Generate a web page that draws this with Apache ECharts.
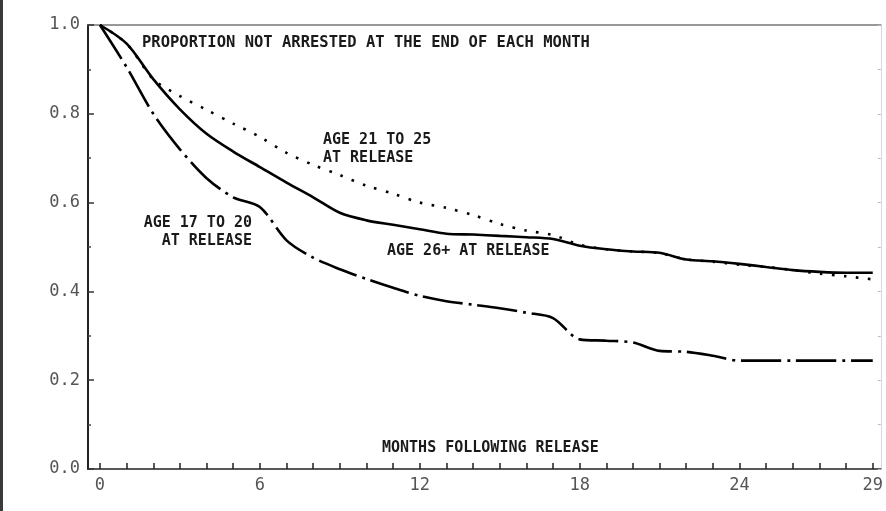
<!DOCTYPE html>
<html>
<head>
<meta charset="utf-8">
<script src="https://cdn.jsdelivr.net/npm/echarts@6/dist/echarts.min.js"></script>
<style>
html,body{margin:0;padding:0;background:#fff;}
#chart{width:886px;height:511px;}
</style>
</head>
<body>
<div id="chart"></div>
<script>
// Months following release
var months = [0,1,2,3,4,5,6,7,8,9,10,11,12,13,14,15,16,17,18,19,20,21,22,23,24,25,26,27,28,29];
// Age 26+ at release (solid)
var age26plus = [1.0,0.958,0.878,0.810,0.755,0.715,0.680,0.645,0.612,0.577,0.560,0.550,0.540,0.530,0.528,0.525,0.522,0.518,0.503,0.495,0.490,0.487,0.472,0.468,0.462,0.455,0.448,0.444,0.442,0.442];
// Age 21 to 25 at release (dotted)
var age21to25 = [1.0,0.958,0.878,0.840,0.809,0.778,0.748,0.712,0.685,0.662,0.638,0.620,0.600,0.588,0.572,0.552,0.537,0.527,0.505,0.495,0.490,0.486,0.472,0.467,0.460,0.455,0.448,0.440,0.434,0.427];
// Age 17 to 20 at release (dash-dot)
var age17to20 = [1.0,0.905,0.800,0.720,0.655,0.612,0.590,0.515,0.476,0.450,0.428,0.408,0.390,0.378,0.370,0.362,0.352,0.340,0.292,0.289,0.285,0.266,0.264,0.255,0.244,0.244,0.244,0.244,0.244,0.244];
// Axis tick labels
var xLabelValues = [0,6,12,18,24,29];

function pairs(vals){ return months.map(function(m,i){ return [m, vals[i]]; }); }

var chart = echarts.init(document.getElementById('chart'), null, {renderer:'canvas'});
var monoFont = '"DejaVu Sans Mono", "Liberation Mono", monospace';
var annot = 'bold 15px ' + monoFont;

chart.setOption({
  backgroundColor:'#ffffff',
  animation:false,
  grid:{left:88, right:1, top:25, bottom:42, containLabel:false},
  xAxis:[{
    type:'value', min:-0.45, max:29.3,
    axisLine:{show:true, onZero:false, lineStyle:{color:'#222', width:1.5}},
    axisTick:{show:true, inside:true, length:6, customValues:months, lineStyle:{color:'#222', width:1.5}},
    axisLabel:{show:true, customValues:xLabelValues, margin:8, color:'#555', fontFamily:monoFont, fontSize:17},
    splitLine:{show:false}
  },{
    type:'value', position:'top', min:-0.45, max:29.3,
    axisLine:{show:true, onZero:false, lineStyle:{color:'#777', width:1.5}},
    axisTick:{show:false}, axisLabel:{show:false}, splitLine:{show:false}
  }],
  yAxis:[{
    type:'value', min:0, max:1, interval:0.2, position:'left',
    axisLine:{show:true, onZero:false, lineStyle:{color:'#222', width:2}},
    axisTick:{show:true, inside:true, length:6, lineStyle:{color:'#333', width:1.5}},
    minorTick:{show:true, splitNumber:2, length:3, lineStyle:{color:'#444', width:1.5}},
    axisLabel:{show:true, margin:8, color:'#555', fontFamily:monoFont, fontSize:17,
      formatter:function(v){ return v.toFixed(1); }},
    splitLine:{show:false}
  },{
    type:'value', position:'right', min:0, max:1, interval:0.1,
    axisLine:{show:true, onZero:false, lineStyle:{color:'#d8d8d8', width:1}},
    axisTick:{show:true, inside:true, length:3, lineStyle:{color:'#bbb'}},
    axisLabel:{show:false}, splitLine:{show:false}
  }],
  series:[{
    name:'AGE 26+ AT RELEASE', type:'line', data:pairs(age26plus), showSymbol:false, symbol:'none',
    smooth:0.3,
    lineStyle:{color:'#000', width:2.6, type:'solid'}, z:3
  },{
    name:'AGE 21 TO 25 AT RELEASE', type:'line', data:pairs(age21to25), showSymbol:false, symbol:'none',
    smooth:0.3,
    lineStyle:{color:'#000', width:2.6, type:[2.6,9.4], cap:'butt'}, z:2
  },{
    name:'AGE 17 TO 20 AT RELEASE', type:'line', data:pairs(age17to20), showSymbol:false, symbol:'none',
    smooth:0.3,
    lineStyle:{color:'#000', width:2.6, type:[40,6,3,6], cap:'butt'}, z:2
  }],
  graphic:[
    {type:'rect', left:0, top:0, shape:{x:0,y:0,width:3,height:511}, style:{fill:'#3a3a3a'}, silent:true},
    {type:'text', x:142, y:43, style:{text:'PROPORTION NOT ARRESTED AT THE END OF EACH MONTH', font:'bold 15.5px '+monoFont, fill:'#1a1a1a', textAlign:'left', textVerticalAlign:'middle'}},
    {type:'text', x:323, y:140, style:{text:'AGE 21 TO 25', font:annot, fill:'#1a1a1a', textAlign:'left', textVerticalAlign:'middle'}},
    {type:'text', x:323, y:158, style:{text:'AT RELEASE', font:annot, fill:'#1a1a1a', textAlign:'left', textVerticalAlign:'middle'}},
    {type:'text', x:252, y:223, style:{text:'AGE 17 TO 20', font:annot, fill:'#1a1a1a', textAlign:'right', textVerticalAlign:'middle'}},
    {type:'text', x:252, y:241, style:{text:'AT RELEASE', font:annot, fill:'#1a1a1a', textAlign:'right', textVerticalAlign:'middle'}},
    {type:'text', x:387, y:251, style:{text:'AGE 26+ AT RELEASE', font:annot, fill:'#1a1a1a', textAlign:'left', textVerticalAlign:'middle'}},
    {type:'text', x:382, y:448, style:{text:'MONTHS FOLLOWING RELEASE', font:annot, fill:'#1a1a1a', textAlign:'left', textVerticalAlign:'middle'}}
  ]
});
</script>
</body>
</html>
